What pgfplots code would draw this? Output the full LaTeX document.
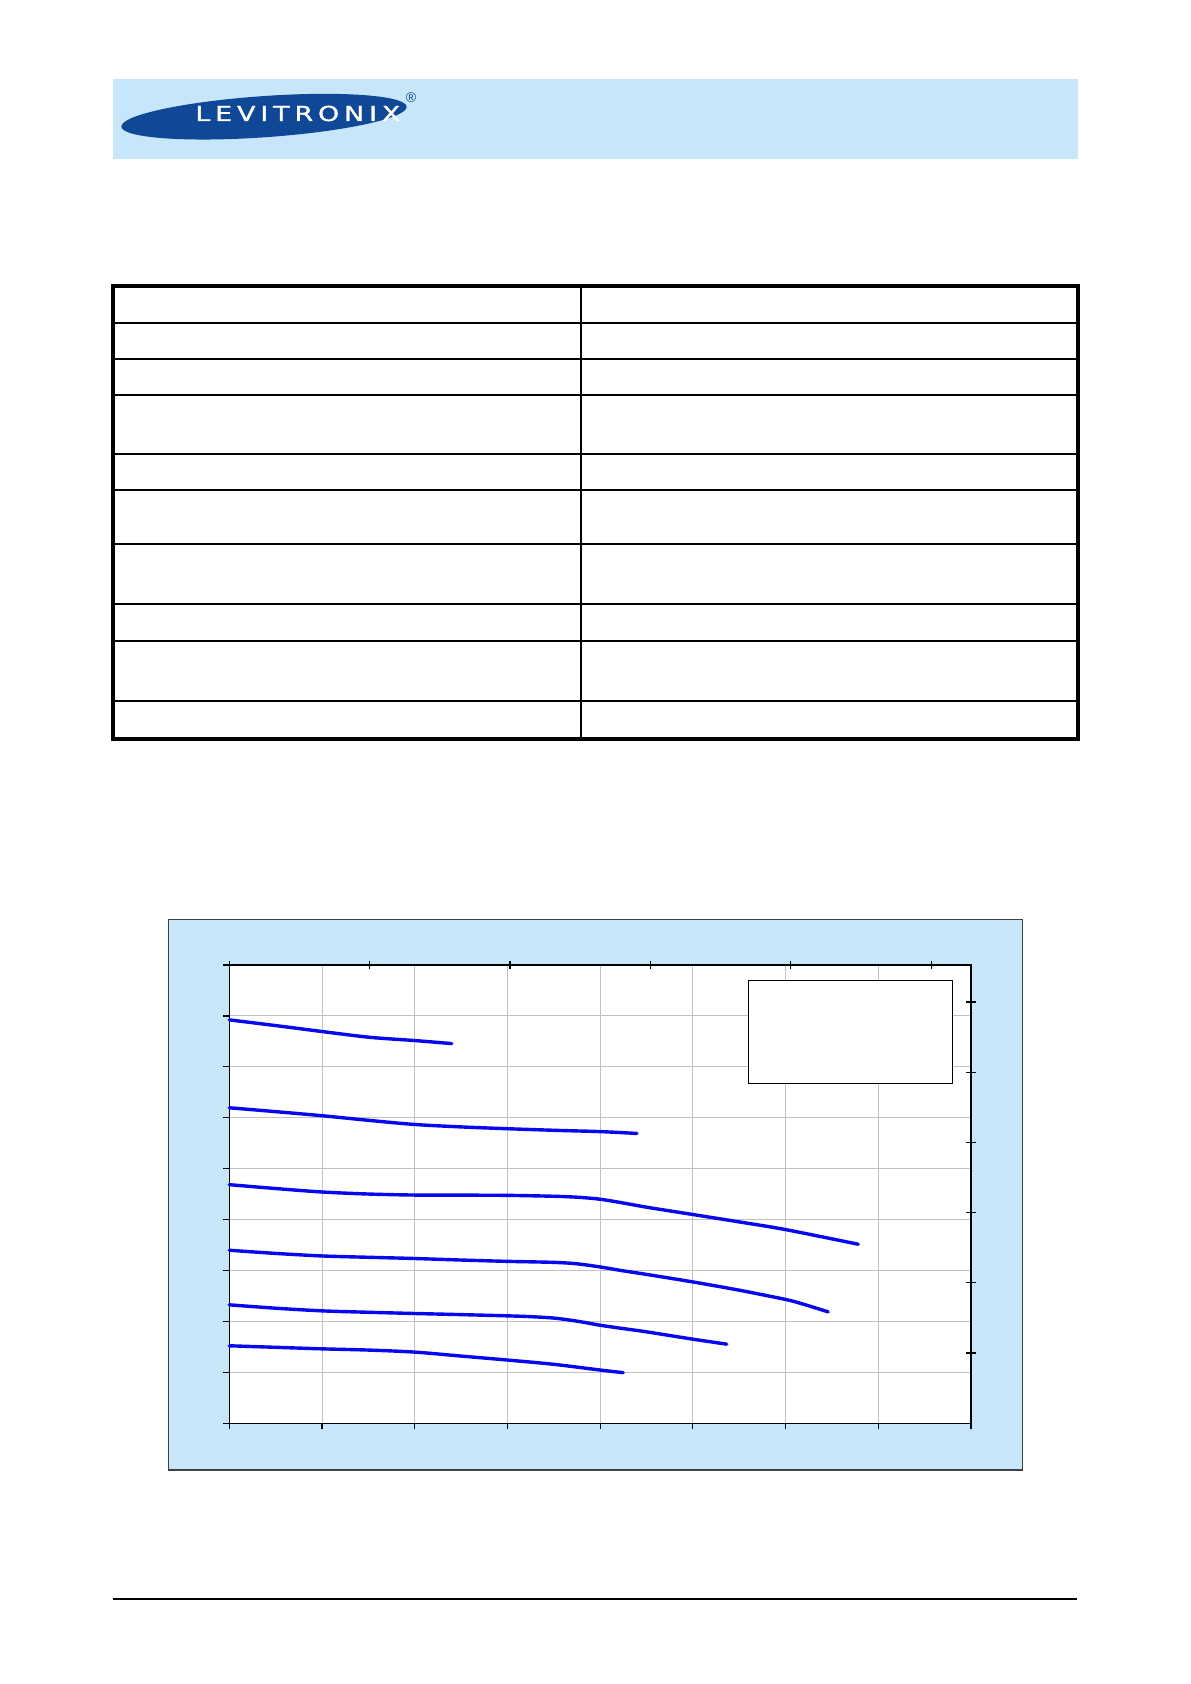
\documentclass[border=0pt]{standalone}
\usepackage{pgfplots}
\pgfplotsset{compat=1.18}
\usepackage{fontspec}
\setmainfont{Liberation Sans}
\newfontfamily\logofont[FakeBold=1.2]{DejaVu Sans}
\definecolor{bandblue}{RGB}{200,230,249}
\definecolor{logoblue}{RGB}{14,72,150}
\definecolor{gridgray}{RGB}{192,192,192}
\definecolor{curveblue}{RGB}{8,8,240}
\begin{document}
\begin{tikzpicture}
\begin{scope}[x=0.5bp,y=0.5bp]
\useasboundingbox (0,0) rectangle (1191,1684);
\fill[white] (0,0) rectangle (1191,1684);
% header band
\fill[bandblue] (113,1525) rectangle (1078,1605);
\fill[logoblue, rotate around={4:(264,1567.3)}] (264,1567.3) ellipse [x radius=143, y radius=20.6];
\node[anchor=base west, inner sep=0pt, text=white, font=\logofont\fontsize{10.3bp}{12bp}\selectfont] at (195,1563)
  {\scalebox{1.3}[1]{\makebox[78.8bp][s]{L\hfil E\hfil V\hfil I\hfil T\hfil R\hfil O\hfil N\hfil I\hfil X}}};
\node[inner sep=0pt, text=logoblue, font=\fontsize{7bp}{8bp}\selectfont] at (411,1586.7) {®};
% table
\foreach \yy in {1360.7,1325.3,1288.8,1229.7,1194.3,1139.5,1080.4,1042.8,982.7}
  \draw[line width=1bp] (113,\yy) -- (1078,\yy);
\draw[line width=1bp] (581,1398) -- (581,945);
\draw[line width=1.8bp] (113,1398) rectangle (1078,945);
% chart area
\filldraw[fill=bandblue, draw=black!75, line width=0.6bp] (168.3,764.7) rectangle (1022.5,214);
% footer
\draw[line width=0.7bp] (113,85) -- (1077,85);
\end{scope}

\begin{axis}[
  at={(114.65bp,130.35bp)}, anchor=south west,
  scale only axis, width=370.8bp, height=229.15bp,
  xmin=0, xmax=80, ymin=0, ymax=4.5,
  xtick={0,10,...,80}, ytick={0,0.5,...,4.5},
  xticklabels={}, yticklabels={},
  xtick pos=lower, ytick pos=left,
  tick align=outside, major tick length=3bp,
  grid=major, major grid style={gridgray, line width=0.5bp},
  axis line style={line width=0.7bp},
  tick style={black, line width=0.6bp},
  axis background/.style={fill=white},
  clip=false,
]
\addplot[curveblue, line width=1.7bp, line cap=round, smooth] coordinates {
(0,3.961) (5,3.905) (10.06,3.846) (15.13,3.790) (20,3.758) (24.0,3.728)};
\addplot[curveblue, line width=1.7bp, line cap=round, smooth] coordinates {
(0,3.098) (5,3.060) (10,3.020) (15.1,2.974) (20,2.934) (25,2.910) (30.1,2.892) (35.7,2.875) (40,2.864) (43.97,2.846)};
\addplot[curveblue, line width=1.7bp, line cap=round, smooth] coordinates {
(0,2.343) (5,2.305) (10,2.271) (15,2.251) (20,2.241) (25,2.240) (30,2.238) (35,2.229) (37.5,2.220) (40,2.200) (42.5,2.163) (45,2.122) (50,2.050) (55.1,1.976) (60,1.902) (67.85,1.758)};
\addplot[curveblue, line width=1.7bp, line cap=round, smooth] coordinates {
(0,1.699) (5,1.668) (10,1.643) (15,1.630) (20,1.618) (25,1.603) (30,1.590) (35,1.580) (37.5,1.566) (40,1.535) (42.5,1.497) (45,1.462) (50,1.388) (55,1.307) (60,1.216) (61.9,1.170) (64.6,1.094)};
\addplot[curveblue, line width=1.7bp, line cap=round, smooth] coordinates {
(0,1.163) (5,1.130) (10,1.104) (15,1.090) (20,1.078) (25,1.067) (30,1.055) (32.5,1.047) (35,1.033) (37.5,1.003) (40,0.963) (42.5,0.930) (45,0.898) (50,0.826) (53.66,0.777)};
\addplot[curveblue, line width=1.7bp, line cap=round, smooth] coordinates {
(0,0.761) (5,0.746) (10,0.731) (15,0.719) (20,0.699) (25,0.660) (30,0.621) (35,0.579) (40,0.523) (42.5,0.497)};
\end{axis}

% top axis (secondary x)
\begin{axis}[
  at={(114.65bp,130.35bp)}, anchor=south west,
  scale only axis, width=370.8bp, height=229.15bp,
  xmin=0, xmax=21.1338, ymin=0, ymax=1,
  axis x line*=top, hide y axis,
  xtick={0,4,...,20}, xticklabels={},
  tick align=center, major tick length=4bp,
  axis line style={line width=0.7bp, -},
  tick style={black, line width=0.6bp},
]
\end{axis}

% right axis (secondary y)
\begin{axis}[
  at={(114.65bp,130.35bp)}, anchor=south west,
  scale only axis, width=370.8bp, height=229.15bp,
  xmin=0, xmax=1, ymin=0, ymax=65.267,
  axis y line*=right, hide x axis,
  ytick={10,20,...,60}, yticklabels={},
  tick align=center, major tick length=5bp,
  axis line style={line width=0.7bp, -},
  tick style={black, line width=0.6bp},
]
\end{axis}

\begin{scope}[x=0.5bp,y=0.5bp]
\filldraw[fill=white, draw=black, line width=0.7bp] (748.3,703.7) rectangle (952.3,600.7);
\end{scope}
\end{tikzpicture}
\end{document}
